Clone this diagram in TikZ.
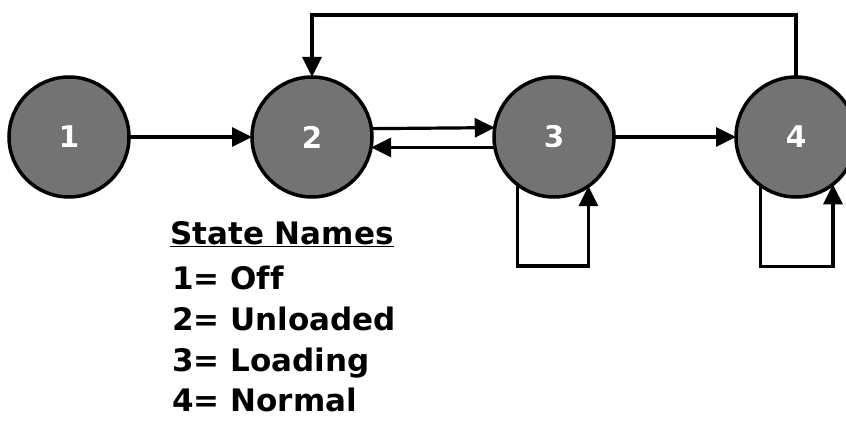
\documentclass[tikz,border=0pt]{standalone}
\usepackage{fontspec}
\setmainfont{DejaVu Sans}[Ligatures=CommonOff]
\usepackage[outline]{contour}
\contourlength{1.2pt}
\usetikzlibrary{arrows.meta}
\tikzset{
  state/.style={circle, draw=black, line width=3.5pt, fill=black!55, minimum size=120pt, inner sep=0pt, outer sep=0pt,
    text=white, font=\bfseries\fontsize{30}{30}\selectfont},
  conn/.style={line width=3.2pt, -{Triangle[length=20pt,width=19pt]}},
  legend/.style={anchor=base west, inner sep=0pt, font=\bfseries\fontsize{31}{31}\selectfont}
}
\newcommand{\statenum}[1]{\contour{black}{#1}}
\begin{document}
\begin{tikzpicture}[x=1pt,y=1pt]
\useasboundingbox (0,0) rectangle (846,421);
\node[state] (c1) at (69,284) {\statenum{1}};
\node[state] (c2) at (312,284) {\statenum{2}};
\node[state] (c3) at (554,284) {\statenum{3}};
\node[state] (c4) at (796,284) {\statenum{4}};
\draw[conn] (c1.east) -- (c2.west);
\draw[conn] (c2.8.6) -- (c3.171.4);
\draw[conn] (c3.190.6) -- (c2.-10.6);
\draw[conn] (c3.east) -- (c4.west);
\draw[conn] (c4.north) -- ++(0,62) -| (c2.north);
\draw[conn] (c3.233) -- ++(0,-81) -| (c3.305);
\draw[conn] (c4.234) -- ++(0,-81) -| (c4.308);
\node[legend] (title) at (170,177) {\underline{State Names}};
\node[legend] (l1) at (172,132) {1= Off};
\node[legend] (l2) at (172,91) {2= Unloaded};
\node[legend] (l3) at (172,50) {3= Loading};
\node[legend] (l4) at (172,10) {4= Normal};
\end{tikzpicture}
\end{document}
